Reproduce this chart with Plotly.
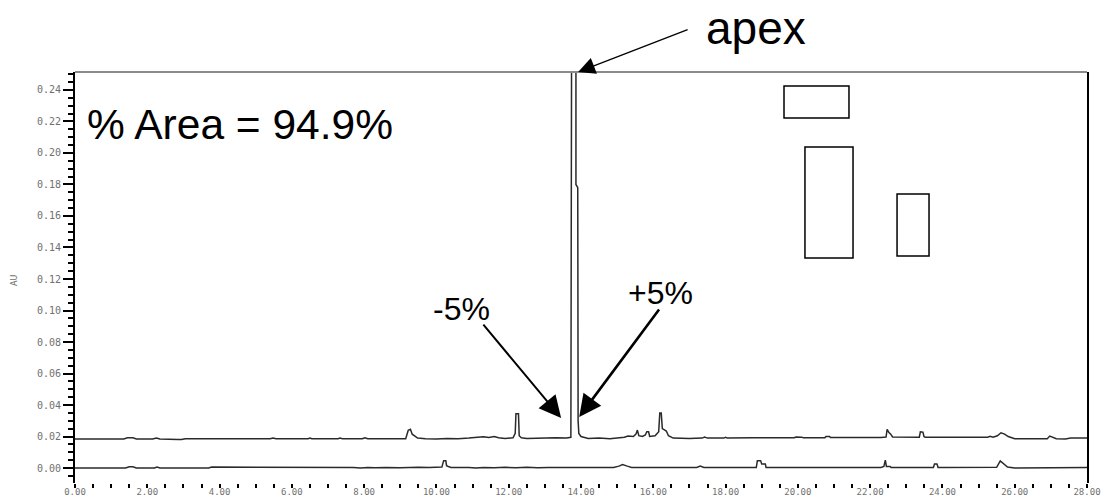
import plotly.graph_objects as go

# ---- data ----
upper_t = [0.00, 1.35, 1.45, 1.60, 1.70, 2.15, 2.25, 2.35, 2.85, 2.95, 3.05, 5.40, 5.48, 5.56,
           6.45, 6.50, 6.55, 7.28, 7.33, 7.40, 7.95, 8.02, 8.10, 9.15, 9.22, 9.28, 9.33, 9.40,
           9.48, 9.70, 10.0, 10.3, 10.6, 10.9, 11.1, 11.3, 11.45, 11.6, 11.72, 11.9, 12.12,
           12.18, 12.20, 12.24, 12.27, 12.29, 12.35, 12.5, 12.8, 13.0, 13.3, 13.60, 13.72,
           13.75, 13.80, 13.86, 13.86, 13.91, 13.92, 13.94, 14.0, 14.2, 14.5, 14.8, 15.0,
           15.2, 15.3, 15.45, 15.52, 15.56, 15.60, 15.7, 15.78, 15.82, 15.87, 15.9, 16.05,
           16.15, 16.18, 16.22, 16.25, 16.30, 16.36, 16.42, 16.55, 17.0, 17.35, 17.42, 17.5,
           17.95, 18.0, 18.05, 18.65, 18.70, 18.75, 19.9, 19.95, 20.1, 20.15, 20.75, 20.78,
           20.88, 20.9, 22.3, 22.38, 22.44, 22.47, 22.52, 22.57, 22.62, 23.36, 23.39, 23.46,
           23.49, 23.52, 25.25, 25.32, 25.4, 25.52, 25.62, 25.72, 25.82, 26.0, 26.4, 26.9,
           26.97, 27.05, 27.15, 27.4, 27.55, 28.0]
upper_au = [0.0184, 0.0184, 0.0192, 0.0192, 0.0184, 0.0184, 0.0191, 0.0184, 0.0181, 0.0181,
            0.0186, 0.0186, 0.0191, 0.0186, 0.0186, 0.0191, 0.0186, 0.0186, 0.0191, 0.0186,
            0.0186, 0.0192, 0.0186, 0.0186, 0.0240, 0.0246, 0.0215, 0.0205, 0.0190, 0.0186,
            0.0184, 0.0188, 0.0186, 0.0190, 0.0196, 0.0199, 0.0194, 0.0200, 0.0192, 0.0188,
            0.0192, 0.0220, 0.0345, 0.0347, 0.0345, 0.0205, 0.0192, 0.0188, 0.0190, 0.0188,
            0.0192, 0.0190, 0.0195, 0.40, 0.90, 0.40, 0.180, 0.178, 0.030, 0.022, 0.0200,
            0.0188, 0.0190, 0.0186, 0.0190, 0.0195, 0.0203, 0.0200, 0.0215, 0.0241, 0.0205,
            0.0200, 0.0210, 0.0230, 0.0230, 0.0200, 0.0205, 0.0230, 0.0349, 0.0349, 0.0250,
            0.0241, 0.0235, 0.0205, 0.0190, 0.0188, 0.0190, 0.0196, 0.0190, 0.0190, 0.0195,
            0.0190, 0.0192, 0.0196, 0.0192, 0.0192, 0.0197, 0.0196, 0.0192, 0.0193, 0.0200,
            0.0200, 0.0194, 0.0194, 0.0197, 0.0197, 0.0246, 0.0225, 0.0215, 0.0197, 0.0196,
            0.0230, 0.0228, 0.0200, 0.0196, 0.0196, 0.0201, 0.0196, 0.0205, 0.0224, 0.0215,
            0.0200, 0.0186, 0.0184, 0.0186, 0.0203, 0.0195, 0.0186, 0.0184, 0.0190, 0.0191]

lower_t = [0.0, 1.4, 1.5, 1.6, 1.7, 2.2, 2.27, 2.35, 3.7, 3.78, 7.7, 7.9, 8.1, 8.3, 8.6, 9.0,
           9.5, 9.8, 10.15, 10.20, 10.26, 10.28, 10.33, 10.40, 10.9, 11.1, 11.3, 11.6, 11.9,
           12.2, 12.5, 12.8, 13.1, 13.3, 14.9, 15.05, 15.15, 15.28, 15.4, 17.2, 17.3, 17.4,
           17.85, 17.9, 18.0, 18.85, 18.88, 18.97, 19.0, 19.1, 19.12, 22.3, 22.38, 22.42,
           22.45, 22.55, 22.58, 23.75, 23.78, 23.85, 23.88, 25.5, 25.6, 25.68, 25.8, 26.0,
           27.6, 27.8, 28.0]
lower_au = [0.0, 0.0, 0.0008, 0.0008, 0.0, 0.0, 0.0006, 0.0, 0.0, 0.0006, 0.0003, 0.0001,
            0.0004, 0.0002, 0.0004, 0.0002, 0.0005, 0.0003, 0.0006, 0.0047, 0.0047, 0.0015,
            0.0010, 0.0004, 0.0004, 0.0001, 0.0004, 0.0002, 0.0005, 0.0002, 0.0005, 0.0002,
            0.0004, 0.0004, 0.0004, 0.0012, 0.0022, 0.0012, 0.0004, 0.0004, 0.0012, 0.0004,
            0.0004, 0.0000, 0.0004, 0.0004, 0.0047, 0.0047, 0.0025, 0.0025, 0.0004, 0.0004,
            0.0010, 0.0050, 0.0010, 0.0010, 0.0004, 0.0004, 0.0025, 0.0025, 0.0004, 0.0005,
            0.0045, 0.0030, 0.0006, 0.0000, 0.0000, 0.0004, 0.0004]

x_ticks = [0, 2, 4, 6, 8, 10, 12, 14, 16, 18, 20, 22, 24, 26, 28]
y_ticks = [0.00, 0.02, 0.04, 0.06, 0.08, 0.10, 0.12, 0.14, 0.16, 0.18, 0.20, 0.22, 0.24]

fig = go.Figure()
for t, v in ((upper_t, upper_au), (lower_t, lower_au)):
    fig.add_trace(go.Scatter(x=t, y=v, mode="lines",
                             line=dict(color="#2a2a2a", width=1.5),
                             hoverinfo="skip", showlegend=False))

ytickfont = dict(family="DejaVu Sans Mono", size=10, color="#707070")
xtickfont = dict(family="DejaVu Sans Mono", size=9, color="#707070")

fig.update_layout(
    width=1110, height=499,
    margin=dict(l=75, r=23, t=72, b=16),
    paper_bgcolor="white", plot_bgcolor="white",
    showlegend=False,
    xaxis=dict(range=[0, 28], tickmode="array", tickvals=x_ticks,
               ticktext=[f"{v:.2f}" for v in x_ticks],
               ticks="outside", ticklen=4, tickwidth=1.5, tickcolor="black",
               minor=dict(dtick=0.5, tick0=0, ticks="outside", ticklen=4,
                          tickwidth=1.5, tickcolor="black"),
               ticklabelstandoff=-4,
               showline=False, showgrid=False, zeroline=False,
               automargin=False, tickfont=xtickfont),
    yaxis=dict(range=[-0.0095, 0.2514], tickmode="array", tickvals=y_ticks,
               ticktext=[f"{v:.2f}" for v in y_ticks],
               ticks="outside", ticklen=10, tickwidth=1.5, tickcolor="black",
               minor=dict(dtick=0.005, tick0=0, ticks="outside", ticklen=5,
                          tickwidth=1.5, tickcolor="black"),
               showline=True, linecolor="black", linewidth=2, mirror=True,
               showgrid=False, zeroline=False, automargin=False, tickfont=ytickfont),
)

# top border (gray)
fig.add_shape(type="line", xref="paper", yref="paper", x0=0, x1=1, y0=1, y1=1,
              line=dict(color="#8a8a8a", width=2))

# boxes
for (x0, x1, y0, y1) in [(0.7006, 0.7648, 0.888, 0.966),
                         (0.7213, 0.7688, 0.5474, 0.8175),
                         (0.8123, 0.8439, 0.5523, 0.7032)]:
    fig.add_shape(type="rect", xref="paper", yref="paper", x0=x0, x1=x1, y0=y0, y1=y1,
                  line=dict(color="black", width=1.5), fillcolor="rgba(0,0,0,0)")

big = dict(family="Liberation Sans, Arial", size=42.5, color="black")
mid = dict(family="Liberation Sans, Arial", size=32, color="black")
txt = dict(showarrow=False, xref="paper", yref="paper", xanchor="center", yanchor="middle")

fig.add_annotation(text="apex", x=0.673, y=1.107,
                   font=dict(family="Liberation Sans, Arial", size=46, color="black"), **txt)
fig.add_annotation(text="% Area = 94.9%", x=0.163, y=0.873, font=big, **txt)
fig.add_annotation(text="-5%", x=0.382, y=0.423, font=mid, **txt)
fig.add_annotation(text="+5%", x=0.579, y=0.462, font=mid, **txt)

# arrows
arrow = dict(showarrow=True, arrowhead=2, arrowcolor="black", text="")
fig.add_annotation(x=13.92, y=1.0, xref="x", yref="paper", ax=111, ay=-43,
                   arrowwidth=1.3, arrowsize=2.6, **arrow)
fig.add_annotation(x=13.45, y=0.0317, xref="x", yref="y", ax=-79, ay=-95,
                   arrowwidth=2, arrowsize=2.2, **arrow)
fig.add_annotation(x=13.95, y=0.0324, xref="x", yref="y", ax=81, ay=-109,
                   arrowwidth=2.6, arrowsize=1.7, **arrow)

# y-axis title
fig.add_annotation(text="AU", xref="paper", yref="paper", x=-0.0593, y=0.494,
                   showarrow=False, textangle=-90, xanchor="center", yanchor="middle",
                   font=dict(family="DejaVu Sans", size=8, color="#707070"))

fig.write_html("out.html")
